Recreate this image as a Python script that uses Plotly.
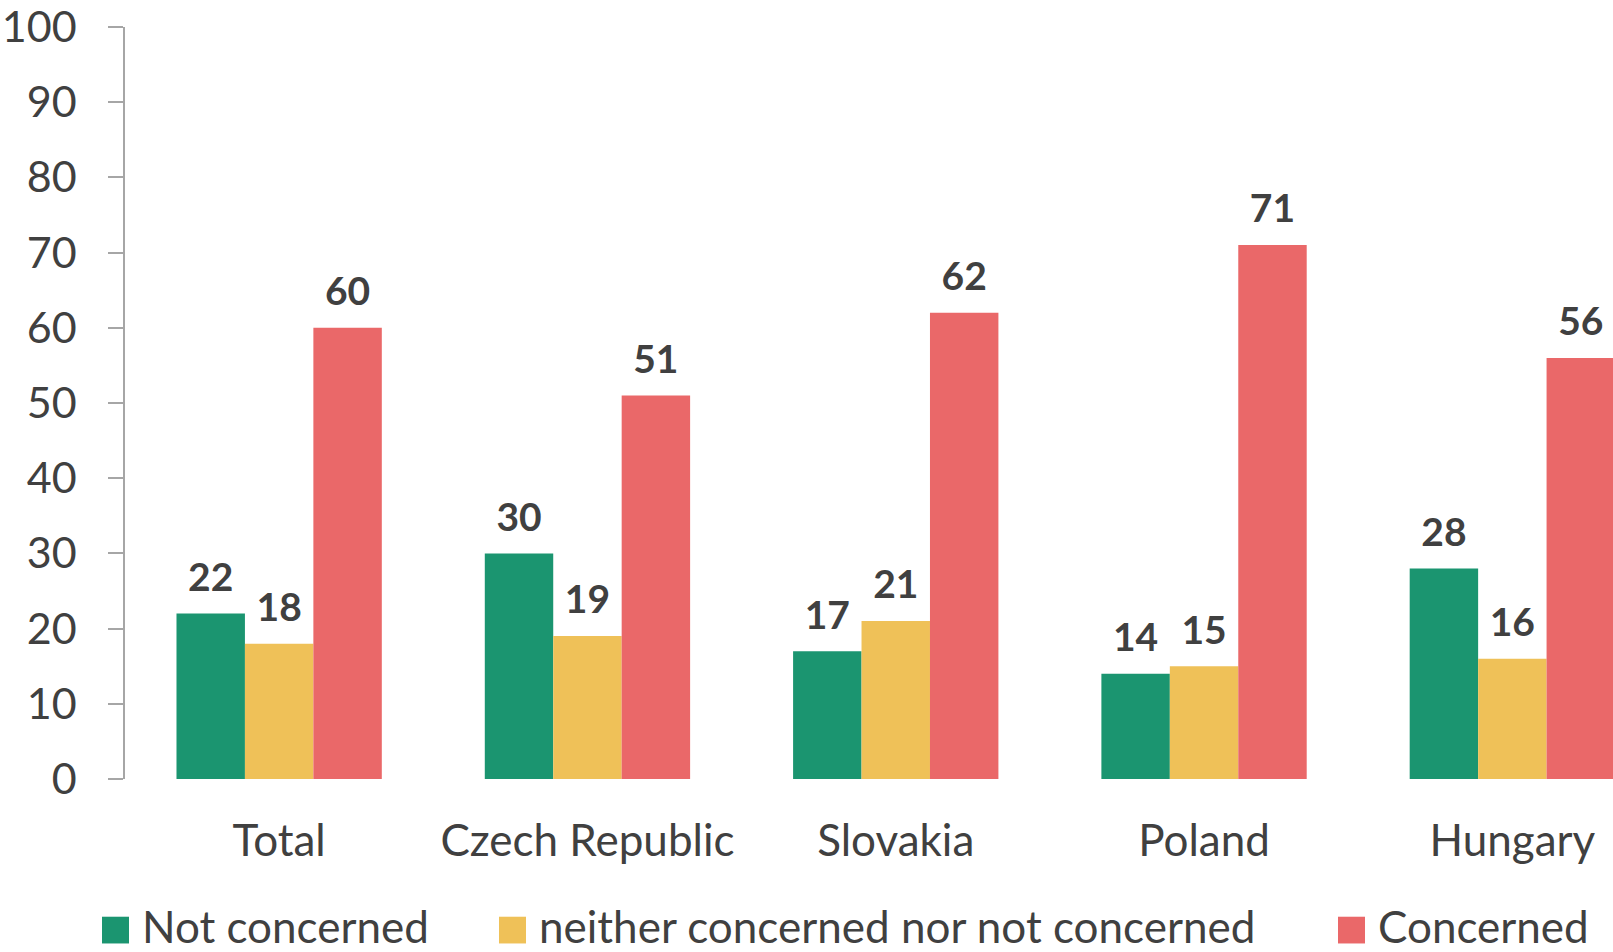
import plotly.graph_objects as go

categories = ["Total", "Czech Republic", "Slovakia", "Poland", "Hungary"]
series_names = ["Not concerned", "neither concerned nor not concerned", "Concerned"]
not_concerned = [22, 30, 17, 14, 28]
neither = [18, 19, 21, 15, 16]
concerned = [60, 51, 62, 71, 56]
y_ticks = [0, 10, 20, 30, 40, 50, 60, 70, 80, 90, 100]

colors = ["#1b9570", "#efc158", "#ea6869"]
series = [not_concerned, neither, concerned]
TXT = "#404040"
FONT = "Lato"

fig = go.Figure()
for i, (name, vals) in enumerate(zip(series_names, series)):
    fig.add_trace(go.Bar(
        x=categories, y=vals, name=name, marker=dict(color=colors[i], line=dict(width=0)),
        offsetgroup=str(i), showlegend=False, hoverinfo="x+y+name"))
for i, (name, vals) in enumerate(zip(series_names, series)):
    fig.add_trace(go.Scatter(
        x=categories, y=vals, mode="markers+text", text=[str(v) for v in vals],
        textposition="top center", offsetgroup=str(i), showlegend=False,
        marker=dict(size=19, opacity=0, color=colors[i]),
        textfont=dict(family=FONT, size=39, color=TXT, weight="bold"),
        cliponaxis=False, hoverinfo="skip"))

W, H = 1613, 952
L, R, T, B = 125, 0, 20, 173
pw, ph = W - L - R, H - T - B

def px(x):
    return (x - L) / pw

def py(y):
    return (H - B - y) / ph

# custom legend
legend_x = [102, 499, 1338]
shapes = []
annotations = []
for i, name in enumerate(series_names):
    x0 = legend_x[i]
    shapes.append(dict(type="rect", xref="paper", yref="paper",
                       x0=px(x0), x1=px(x0 + 27), y0=py(945), y1=py(918),
                       fillcolor=colors[i], line=dict(width=0)))
    annotations.append(dict(text=name, xref="paper", yref="paper", x=px(x0 + 38), y=py(927.5),
                            xanchor="left", yanchor="middle", showarrow=False,
                            font=dict(family=FONT, size=44, color=TXT)))

fig.update_layout(
    width=W, height=H, autosize=False,
    margin=dict(l=L, r=R, t=T, b=B, pad=0),
    paper_bgcolor="white", plot_bgcolor="white",
    barmode="group", bargap=0.334, bargroupgap=0,
    scattermode="group", scattergap=0.334,
    font=dict(family=FONT, color=TXT),
    shapes=shapes, annotations=annotations,
    showlegend=False,
)
fig.update_xaxes(range=[-0.5, -0.5 + pw / 308.3], showline=False, ticks="", showgrid=False,
                 zeroline=False, tickfont=dict(family=FONT, size=44, color=TXT),
                 ticklabelstandoff=32)
fig.update_yaxes(range=[0, 100], tickvals=y_ticks, showline=True, linecolor="#a6a6a6",
                 linewidth=1.5, ticks="outside", ticklen=15, tickwidth=1.5, tickcolor="#a6a6a6",
                 showgrid=False, zeroline=False, tickfont=dict(family=FONT, size=43, color=TXT),
                 ticklabelstandoff=23, ticklabeloverflow="allow")

fig.write_html("out.html", config={"displayModeBar": False},
               post_script="document.body.style.margin='0';")
